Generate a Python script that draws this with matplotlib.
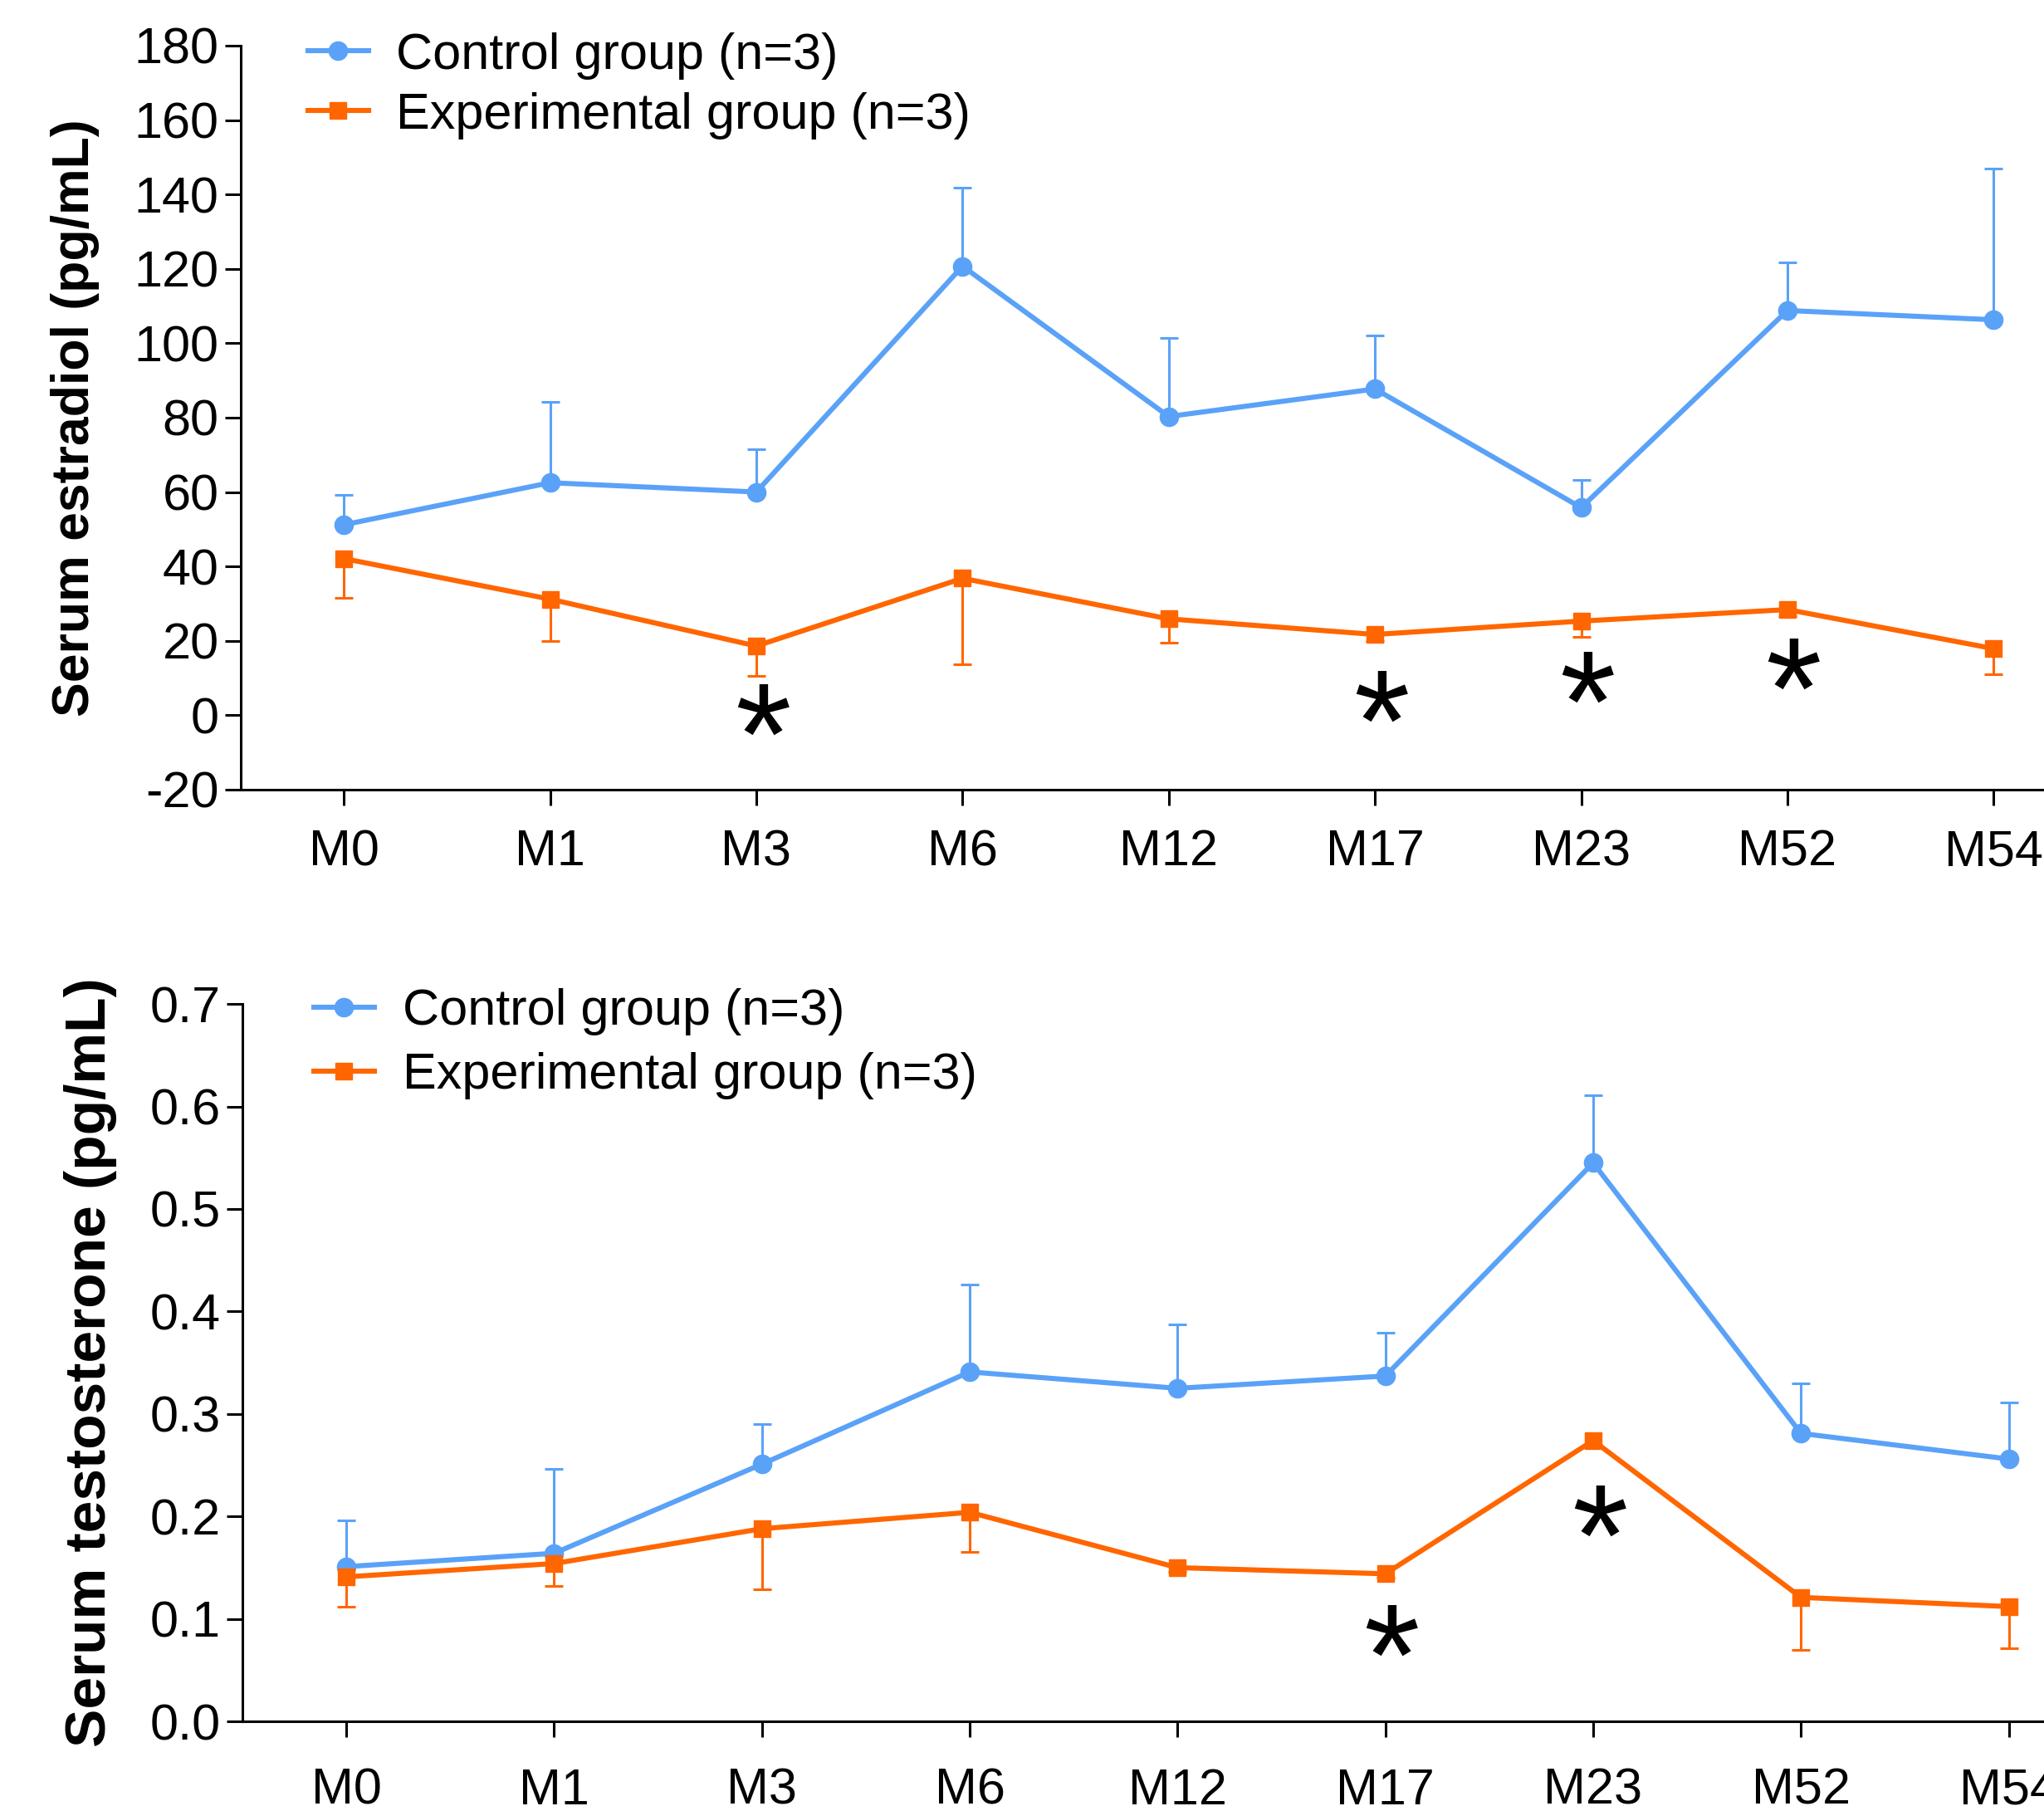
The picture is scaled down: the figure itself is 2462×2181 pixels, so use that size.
import matplotlib
matplotlib.use("Agg")
import matplotlib.pyplot as plt
import numpy as np

plt.rcParams['font.family'] = ['Liberation Sans', 'DejaVu Sans']
plt.rcParams['axes.unicode_minus'] = False

months = ["M0", "M1", "M3", "M6", "M12", "M17", "M23", "M52", "M54"]

# serum estradiol (pg/mL)
e2_ctrl = [51.2, 62.5, 60.0, 120.7, 80.3, 87.7, 55.8, 108.8, 106.3]
e2_ctrl_up = [59.3, 84.2, 71.6, 141.8, 101.4, 102.1, 63.2, 121.7, 147.0]
e2_exp = [42.1, 31.2, 18.6, 36.8, 25.9, 21.7, 25.3, 28.4, 17.9]
e2_exp_low = [31.6, 20.0, 10.5, 13.7, 19.6, 20.0, 21.0, 26.7, 10.9]
e2_stars = [(2, 1.0), (5, 4.6), (6, 9.8), (7, 13.3)]

# serum testosterone (pg/mL)
t_ctrl = [0.151, 0.164, 0.251, 0.341, 0.325, 0.337, 0.545, 0.281, 0.256]
t_ctrl_up = [0.196, 0.246, 0.290, 0.426, 0.387, 0.379, 0.611, 0.330, 0.311]
t_exp = [0.141, 0.154, 0.188, 0.204, 0.150, 0.144, 0.274, 0.121, 0.112]
t_exp_low = [0.112, 0.132, 0.129, 0.165, 0.146, 0.140, 0.270, 0.070, 0.071]
t_stars = [(5, 0.087), (6, 0.204)]

BLUE = "#5aa2f8"
ORANGE = "#ff6600"


def one_sided(ax, x, y, err, color, upward):
    if upward:
        yerr = [np.zeros_like(err), err]
    else:
        yerr = [err, np.zeros_like(err)]
    eb = ax.errorbar(x, y, yerr=yerr, fmt='none', ecolor=color,
                     elinewidth=2.2, capsize=8, capthick=2.2,
                     clip_on=False, zorder=2)
    # drop the cap on the side without an error bar
    caps = eb[1]
    caps[0 if upward else 1].set_visible(False)


def panel(ax, ctrl, ctrl_up, exp, exp_low, stars, ylabel, yticks, ylim,
          tick_fs, label_fs, label_pad, x_pad, leg_anchor, leg_spacing):
    x = np.arange(len(months))
    ctrl = np.array(ctrl)
    exp = np.array(exp)

    one_sided(ax, x, ctrl, np.array(ctrl_up) - ctrl, BLUE, True)
    one_sided(ax, x, exp, exp - np.array(exp_low), ORANGE, False)
    ax.plot(x, ctrl, color=BLUE, marker='o', markersize=16, linewidth=4.4,
            label="Control group (n=3)", clip_on=False, zorder=3)
    ax.plot(x, exp, color=ORANGE, marker='s', markersize=15, linewidth=4.4,
            label="Experimental group (n=3)", clip_on=False, zorder=3)

    for i, yv in stars:
        ax.annotate("*", xy=(i + 0.03, yv), xytext=(0, -30),
                    textcoords='offset points', fontsize=125,
                    ha='center', va='center')

    ax.set_xlim(-0.5, 8.5)
    ax.set_ylim(*ylim)
    ax.set_xticks(x)
    ax.set_xticklabels(months)
    ax.set_yticks(yticks)
    ax.set_ylabel(ylabel, fontsize=label_fs, fontweight='bold',
                  labelpad=label_pad)

    for s in ['top', 'right']:
        ax.spines[s].set_visible(False)
    for s in ['left', 'bottom']:
        ax.spines[s].set_linewidth(2.2)
    ax.tick_params(axis='both', direction='out', length=14, width=2.2,
                   labelsize=tick_fs)
    ax.tick_params(axis='y', pad=5)
    ax.tick_params(axis='x', pad=x_pad)

    ax.legend(loc='upper left', bbox_to_anchor=leg_anchor, frameon=False,
              fontsize=44, handlelength=1.2, handletextpad=0.55,
              labelspacing=leg_spacing, borderpad=0, borderaxespad=0)


fig = plt.figure(figsize=(24.62, 21.81), dpi=100)
ax1 = fig.add_axes([0.1178, 0.564, 0.908, 0.4108])
ax2 = fig.add_axes([0.1186, 0.0495, 0.915, 0.3961])

panel(ax1, e2_ctrl, e2_ctrl_up, e2_exp, e2_exp_low, e2_stars,
      "Serum estradiol (pg/mL)", np.arange(-20, 181, 20), (-20, 180),
      44, 45, 30, 20, (0.036, 1.018), 0.24)
panel(ax2, t_ctrl, t_ctrl_up, t_exp, t_exp_low, t_stars,
      "Serum testosterone (pg/mL)", np.arange(0, 0.71, 0.1), (0, 0.7),
      44, 50, 28, 26, (0.038, 1.022), 0.33)
ax2.set_yticklabels([f"{v:.1f}" for v in np.arange(0, 0.71, 0.1)])

fig.savefig("out.png", dpi=100)
